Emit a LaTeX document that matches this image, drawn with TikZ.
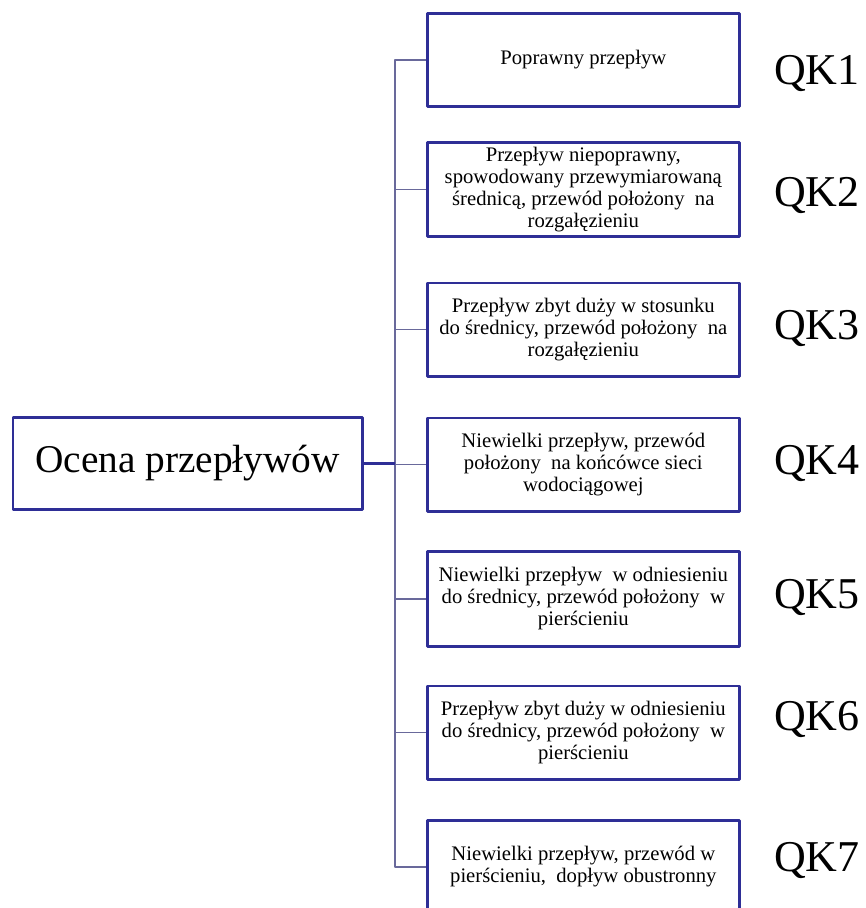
\documentclass[tikz,border=0pt]{standalone}
\usepackage{fontspec}
\setmainfont{Liberation Serif}
\definecolor{boxblue}{RGB}{46,46,150}
\definecolor{linkgray}{RGB}{105,105,155}
\begin{document}
\begin{tikzpicture}[x=0.75pt, y=-0.75pt, line join=round,
  box/.style={draw=boxblue, line width=2pt, align=center, anchor=west,
    minimum width=234pt, font=\fontsize{15.5}{16.5}\selectfont},
  mainbox/.style={draw=boxblue, line width=2pt, minimum width=262pt,
    minimum height=69pt, font=\fontsize{29.5}{34}\selectfont},
  qk/.style={font=\fontsize{33}{38}\selectfont},
  link/.style={draw=linkgray, line width=1pt}]
\useasboundingbox (0,0) rectangle (866,908);
\clip (0,0) rectangle (866,908);
\coordinate (spine) at (395,0);
\node[mainbox] (ocena) at (187.5,463.5) {Ocena przepływów};
\foreach \i/\y/\h/\t in {
  1/60/70/{Poprawny przepływ},
  2/189.5/63/{Przepływ niepoprawny,\\spowodowany przewymiarowaną\\średnicą, przewód położony~ na\\rozgałęzieniu},
  3/329.5/70/{Przepływ zbyt duży w stosunku\\do średnicy, przewód położony~ na\\rozgałęzieniu},
  4/464.5/70/{Niewielki przepływ, przewód\\położony~ na końcówce sieci\\wodociągowej},
  5/599/71/{Niewielki przepływ~ w odniesieniu\\do średnicy, przewód położony~ w\\pierścieniu},
  6/732.5/70/{Przepływ zbyt duży w odniesieniu\\do średnicy, przewód położony~ w\\pierścieniu},
  7/867/70/{Niewielki przepływ, przewód w\\pierścieniu,~ dopływ obustronny}}
  \node[box, minimum height=\h pt] (box\i) at (426,\y) {\t};
\foreach \i/\y in {1/73, 2/195, 3/328, 4/463, 5/597, 6/719, 7/860}
  \node[qk] (qk\i) at (817,\y) {QK\i};
\draw[link] (box1.west) -| (box7.west -| spine) -- (box7.west);
\foreach \i in {2,...,6}
  \draw[link] (box\i.west -| spine) -- (box\i.west);
\draw[draw=boxblue, line width=2pt] (ocena.east) -- (ocena.east -| spine);
\end{tikzpicture}
\end{document}
